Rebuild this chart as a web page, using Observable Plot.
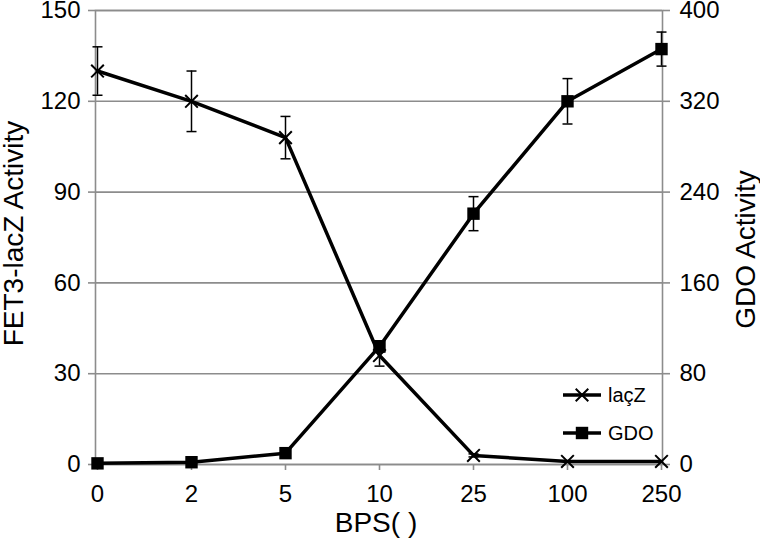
<!DOCTYPE html>
<html><head><meta charset="utf-8">
<script src="https://cdn.jsdelivr.net/npm/d3@7"></script>
<script src="https://cdn.jsdelivr.net/npm/@observablehq/plot@0.6"></script>
<style>body{margin:0;background:#fff}</style>
</head><body><div id="chart"></div>
<script>
const bps = ["0","2","5","10","25","100","250"];
const lacZ = [130,120,108,36,3,1,1];
const lacZErr = [8,10,7,3.5,0.5,0,0];
const gdo = [1,2,10,104,221,320,366];
const gdoErr = [0,0,0,5,15,20,15];
const leftTicks = [0,30,60,90,120,150];
const rightTicks = [0,80,160,240,320,400];
const leftTitle = "FET3-lacZ Activity";
const rightTitle = "GDO Activity";
const xTitle = "BPS( )";
const legendLabels = ["laçZ","GDO"];

const k = 150/400; // right-axis (GDO) to left-axis scale factor
const rows = bps.map((b,i)=>({b, lacZ:lacZ[i], le:lacZErr[i], gdo:gdo[i]*k, ge:gdoErr[i]*k}));
const grey = "#8c8c8c";
const font = "'Liberation Sans', Arial, sans-serif";
const cap = {draw(ctx){ ctx.moveTo(-5,0); ctx.lineTo(5,0); }};
const capOpts = {symbol:cap, stroke:"#000", strokeWidth:1.5, fill:"none"};

const plot = Plot.plot({
  width:760, height:547,
  marginTop:10, marginBottom:83, marginLeft:95, marginRight:98,
  style:{fontFamily:font, fontSize:"24px", background:"#fff", color:"#000", overflow:"visible"},
  x:{type:"point", domain:bps, padding:0, label:null},
  y:{domain:[0,150], label:null},
  marks:[
    Plot.gridY(leftTicks, {stroke:grey, strokeOpacity:1, strokeWidth:1.6}),
    Plot.frame({stroke:grey, strokeWidth:1.6}),
    Plot.axisY(leftTicks, {anchor:"left", tickSize:7, tickPadding:8, stroke:grey, strokeWidth:1.6, fontSize:24, label:null}),
    Plot.axisY(rightTicks.map(v=>v*k), {anchor:"right", tickSize:7, tickPadding:10, stroke:grey, strokeWidth:1.6, fontSize:24, label:null, tickFormat:(d)=>String(Math.round(d/k))}),
    Plot.axisX({tickSize:6, tickPadding:14, stroke:grey, strokeWidth:1.6, fontSize:24, label:null}),
    Plot.text([leftTitle], {frameAnchor:"left", textAnchor:"middle", dx:-81, dy:-4, rotate:-90, fontSize:28, text:d=>d}),
    Plot.text([rightTitle], {frameAnchor:"right", textAnchor:"middle", dx:84, dy:12, rotate:-90, fontSize:28, text:d=>d}),
    Plot.text([xTitle], {frameAnchor:"bottom", textAnchor:"middle", dy:67, dx:-3, fontSize:28, text:d=>d}),
    // lacZ
    Plot.ruleX(rows.filter(d=>d.le>0), {x:"b", y1:d=>d.lacZ-d.le, y2:d=>d.lacZ+d.le, stroke:"#000", strokeWidth:1.5}),
    Plot.dot(rows.filter(d=>d.le>0), {x:"b", y:d=>d.lacZ-d.le, ...capOpts}),
    Plot.dot(rows.filter(d=>d.le>0), {x:"b", y:d=>d.lacZ+d.le, ...capOpts}),
    Plot.line(rows, {x:"b", y:"lacZ", stroke:"#000", strokeWidth:3.5}),
    Plot.dot(rows, {x:"b", y:"lacZ", symbol:"times", r:5.8, stroke:"#000", strokeWidth:2}),
    // GDO
    Plot.ruleX(rows.filter(d=>d.ge>0), {x:"b", y1:d=>d.gdo-d.ge, y2:d=>d.gdo+d.ge, stroke:"#000", strokeWidth:1.5}),
    Plot.dot(rows.filter(d=>d.ge>0), {x:"b", y:d=>d.gdo-d.ge, ...capOpts}),
    Plot.dot(rows.filter(d=>d.ge>0), {x:"b", y:d=>d.gdo+d.ge, ...capOpts}),
    Plot.line(rows, {x:"b", y:"gdo", stroke:"#000", strokeWidth:3.5}),
    Plot.dot(rows, {x:"b", y:"gdo", symbol:"square", r:7, fill:"#000", stroke:"none"})
  ]
});
document.getElementById("chart").appendChild(plot);

// legend inside plot area
const svg = d3.select(plot);
const lg = svg.append("g").attr("font-family", font).attr("font-size", 20).attr("text-anchor","start");
const items = [{label:legendLabels[0], sym:d3.symbolTimes, fill:"none", stroke:"#000"},
               {label:legendLabels[1], sym:d3.symbolSquare, fill:"#000", stroke:"none"}];
items.forEach((it,i)=>{
  const y = 395 + i*38;
  lg.append("line").attr("x1",563).attr("x2",601).attr("y1",y).attr("y2",y).attr("stroke","#000").attr("stroke-width",3.5);
  lg.append("path").attr("transform",`translate(582,${y})`).attr("d", d3.symbol(it.sym, it.sym===d3.symbolSquare?154:105)())
    .attr("fill", it.fill).attr("stroke", it.stroke).attr("stroke-width", 2);
  lg.append("text").attr("x",608).attr("y",y).attr("dy","0.35em").attr("text-anchor","start").text(it.label);
});
</script>
</body></html>
